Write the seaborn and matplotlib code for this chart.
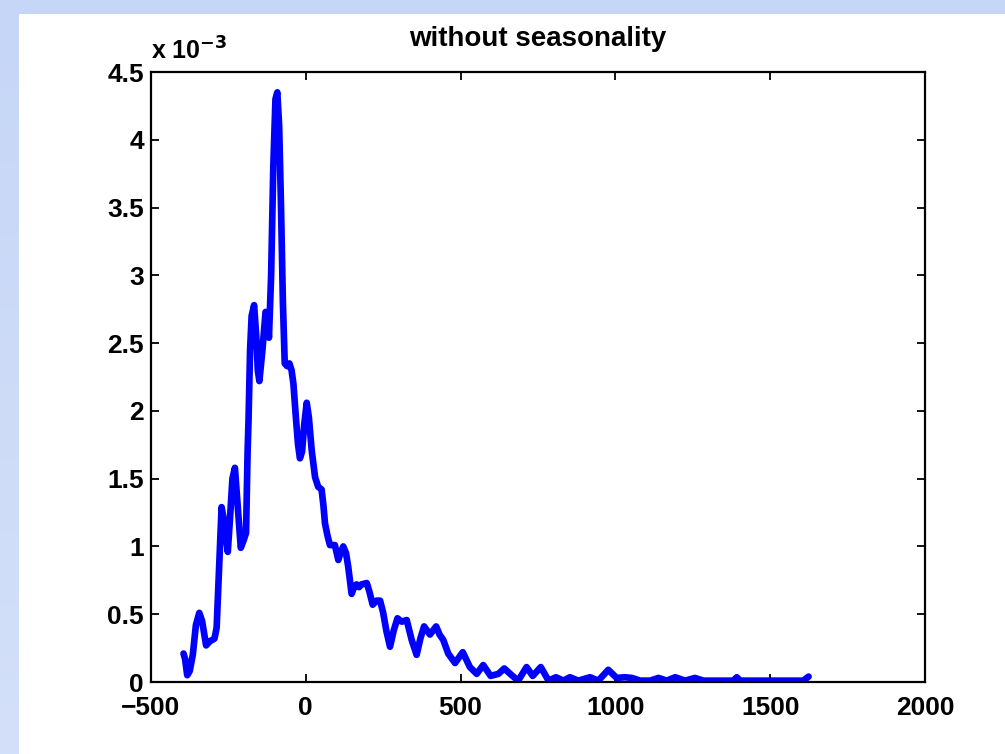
import numpy as np
import pandas as pd
import matplotlib
matplotlib.use("Agg")
import matplotlib.pyplot as plt
from matplotlib.patches import Rectangle
from matplotlib.ticker import FuncFormatter
from matplotlib.colors import LinearSegmentedColormap
import seaborn as sns

# ---- data (x values, density in units of 1e-3) ----
x_vals = [-395, -390, -383, -375, -365, -355, -344, -335, -322, -310, -295, -288,
          -280, -272, -265, -252, -245, -237, -229, -220, -210, -200, -193, -188,
          -185, -180, -175, -167, -160, -155, -150, -140, -130, -125, -119, -112,
          -105, -98, -92, -86, -80, -74, -68, -60, -53, -46, -40, -32, -25, -19,
          -12, -5, 3, 10, 19, 30, 40, 51, 57, 62, 70, 78, 94, 105, 112, 121, 130,
          137, 148, 156, 164, 172, 180, 197, 205, 216, 228, 240, 250, 260, 272,
          284, 296, 310, 326, 342, 358, 370, 382, 401, 421, 432, 444, 460, 482,
          507, 530, 552, 573, 597, 622, 641, 665, 686, 713, 733, 759, 784, 808,
          832, 853, 880, 918, 945, 977, 1004, 1031, 1053, 1080, 1112, 1139, 1166,
          1193, 1225, 1257, 1284, 1381, 1392, 1403, 1607, 1624]
y_e3 = [0.21, 0.17, 0.05, 0.08, 0.20, 0.42, 0.51, 0.45, 0.27, 0.30, 0.32, 0.40,
        0.85, 1.29, 1.20, 0.96, 1.20, 1.50, 1.58, 1.30, 0.99, 1.05, 1.10, 1.70,
        1.93, 2.45, 2.70, 2.78, 2.55, 2.30, 2.22, 2.45, 2.73, 2.70, 2.54, 3.00,
        3.80, 4.30, 4.35, 4.10, 3.50, 2.80, 2.35, 2.33, 2.35, 2.30, 2.20, 1.95,
        1.75, 1.65, 1.70, 1.90, 2.06, 1.95, 1.71, 1.51, 1.44, 1.42, 1.30, 1.17,
        1.08, 1.01, 1.01, 0.90, 0.95, 1.00, 0.95, 0.85, 0.65, 0.70, 0.72, 0.70,
        0.72, 0.73, 0.67, 0.57, 0.60, 0.60, 0.51, 0.38, 0.26, 0.38, 0.47, 0.445,
        0.457, 0.31, 0.20, 0.32, 0.41, 0.35, 0.41, 0.35, 0.31, 0.21, 0.14, 0.22,
        0.11, 0.06, 0.125, 0.045, 0.06, 0.10, 0.05, 0.01, 0.11, 0.045, 0.11, 0.01,
        0.035, 0.01, 0.035, 0.01, 0.035, 0.01, 0.09, 0.03, 0.035, 0.03, 0.01, 0.01,
        0.03, 0.01, 0.035, 0.01, 0.03, 0.01, 0.01, 0.035, 0.01, 0.01, 0.04]
x_ticks = [-500, 0, 500, 1000, 1500, 2000]
y_ticks_e3 = [0, 0.5, 1, 1.5, 2, 2.5, 3, 3.5, 4, 4.5]
title_text = "without seasonality"
scale = 1e-3

df = pd.DataFrame({"x": x_vals, "density": np.array(y_e3) * scale})

sns.set_theme(style="white")
plt.rcParams["font.family"] = ["Liberation Sans", "DejaVu Sans"]
plt.rcParams["font.weight"] = "bold"
plt.rcParams["text.color"] = "black"
plt.rcParams["axes.titlecolor"] = "black"
plt.rcParams["xtick.color"] = "black"
plt.rcParams["ytick.color"] = "black"
plt.rcParams["mathtext.default"] = "bf"

fig = plt.figure(figsize=(10.05, 7.54), dpi=100)
fig.patch.set_facecolor("white")

# slide-like background strips
fig.add_artist(Rectangle((0, 1 - 14 / 754), 1, 14 / 754, transform=fig.transFigure,
                         facecolor="#c6d6f6", edgecolor="none", zorder=0))
strip = fig.add_axes([0, 0, 19 / 1005, 1 - 14 / 754])
grad = np.linspace(0, 1, 256).reshape(-1, 1)
cmap = LinearSegmentedColormap.from_list("bg", ["#c6d6f6", "#d4e0f9"])
strip.imshow(grad, aspect="auto", cmap=cmap, extent=[0, 1, 0, 1], origin="upper")
strip.set_axis_off()

ax = fig.add_axes([151 / 1005, 1 - 682 / 754, (925 - 151) / 1005, (682 - 72) / 754])
sns.lineplot(data=df, x="x", y="density", sort=False, estimator=None,
             color="#0000ff", linewidth=4.8, ax=ax)
for ln in ax.get_lines():
    ln.set_solid_capstyle("round")
    ln.set_solid_joinstyle("round")

ax.set_xlim(-500, 2000)
ax.set_ylim(0, 4.5 * scale)
ax.set_xticks(x_ticks)
ax.set_yticks([v * scale for v in y_ticks_e3])
ax.yaxis.set_major_formatter(FuncFormatter(lambda v, p: f"{v / scale:g}"))
ax.xaxis.set_major_formatter(FuncFormatter(lambda v, p: f"{v:g}".replace("-", "\u2212")))
ax.set_xlabel("")
ax.set_ylabel("")

for s in ax.spines.values():
    s.set_visible(True)
    s.set_color("black")
    s.set_linewidth(1.6)
ax.tick_params(axis="both", which="major", direction="in", length=6, width=1.3,
               top=True, right=True, bottom=True, left=True, labelsize=19,
               colors="black")
ax.tick_params(axis="x", pad=10)
ax.tick_params(axis="y", pad=5)
for lab in ax.get_xticklabels() + ax.get_yticklabels():
    lab.set_fontweight("bold")
    lab.set_color("black")

ax.set_title(title_text, fontsize=20, fontweight="bold", pad=19, color="black")
ax.text(0.0, 1.012, "x 10$^{-3}$", transform=ax.transAxes, fontsize=18,
        fontweight="bold", ha="left", va="bottom", color="black")

fig.savefig("out.png", dpi=100, facecolor=fig.get_facecolor())
